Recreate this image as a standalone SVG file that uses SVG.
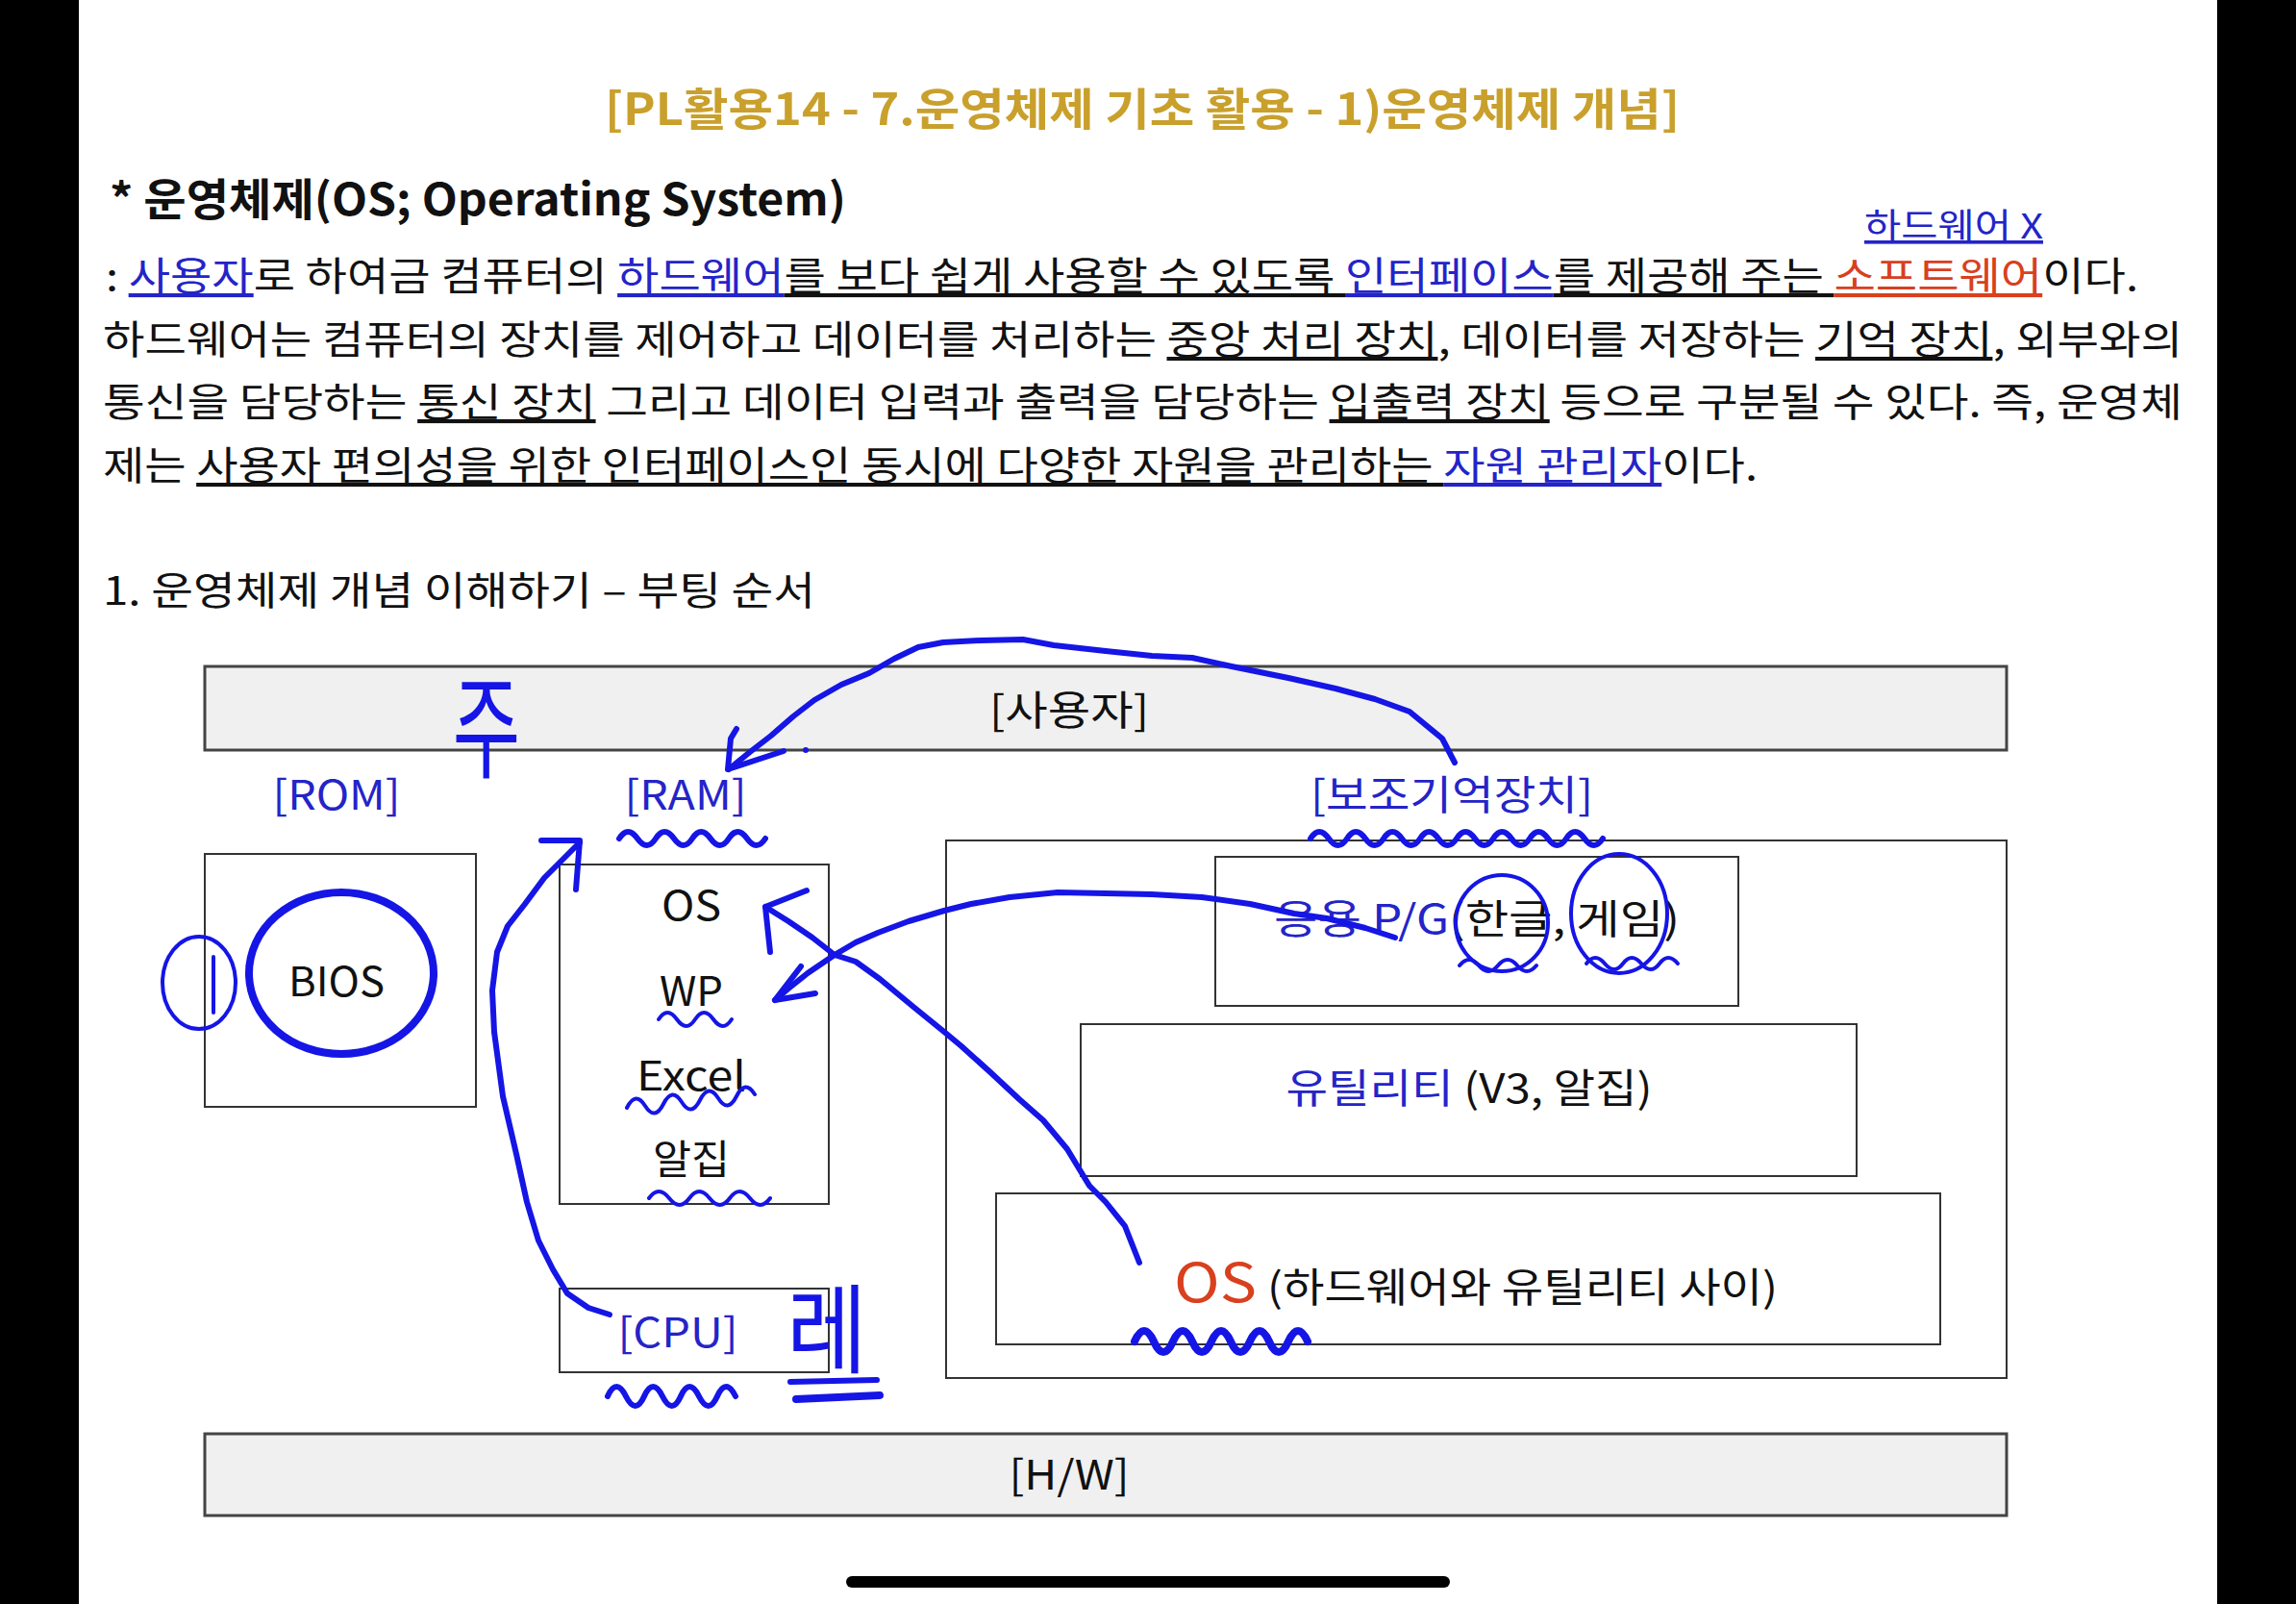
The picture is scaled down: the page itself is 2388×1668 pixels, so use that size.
<svg xmlns="http://www.w3.org/2000/svg" width="2388" height="1668" viewBox="0 0 2388 1668">
<style>
.k{font-family:"Noto Sans CJK KR","Noto Sans",sans-serif}
.p{font-size:41px;fill:#111}
.lbl{font-size:42px;fill:#111;text-anchor:middle}
.bl{fill:#2424c8}
.rd{fill:#d8401e}
.u{text-decoration:underline}
.box{fill:#fff;stroke:#333;stroke-width:2}
.bar{fill:#f0f0f0;stroke:#444;stroke-width:3}
.ink{fill:none;stroke:#1515e6;stroke-width:6;stroke-linecap:round;stroke-linejoin:round}
.thin{stroke-width:4}
.thick{stroke-width:8}
.hand{fill:#1515e6;text-anchor:middle}
</style>
<rect x="0" y="0" width="2388" height="1668" fill="#fff"/>
<rect x="0" y="0" width="82" height="1668" fill="#000"/>
<rect x="2306" y="0" width="82" height="1668" fill="#000"/>

<g id="header" class="k">
<text x="1188" y="130" font-size="46" font-weight="700" fill="#c9a02c" text-anchor="middle" textLength="1118" lengthAdjust="spacingAndGlyphs">[PL활용14 - 7.운영체제 기초 활용 - 1)운영체제 개념]</text>
<text x="114" y="224" font-size="46" font-weight="700" fill="#111" textLength="766" lengthAdjust="spacingAndGlyphs">* 운영체제(OS; Operating System)</text>
<text x="1939" y="248" font-size="36" class="bl u" textLength="186" lengthAdjust="spacingAndGlyphs">하드웨어 X</text>
<text x="110" y="302" class="p" textLength="2114" lengthAdjust="spacingAndGlyphs"><tspan>: </tspan><tspan class="bl u">사용자</tspan><tspan>로 하여금 컴퓨터의 </tspan><tspan class="bl u">하드웨어</tspan><tspan class="u">를 보다 쉽게 사용할 수 있도록 </tspan><tspan class="bl u">인터페이스</tspan><tspan class="u">를 제공해 주는 </tspan><tspan class="rd u">소프트웨어</tspan><tspan>이다.</tspan></text>
<text x="107" y="368" class="p" textLength="2163" lengthAdjust="spacingAndGlyphs"><tspan>하드웨어는 컴퓨터의 장치를 제어하고 데이터를 처리하는 </tspan><tspan class="u">중앙 처리 장치</tspan><tspan>, 데이터를 저장하는 </tspan><tspan class="u">기억 장치</tspan><tspan>, 외부와의</tspan></text>
<text x="107" y="433" class="p" textLength="2163" lengthAdjust="spacingAndGlyphs"><tspan>통신을 담당하는 </tspan><tspan class="u">통신 장치</tspan><tspan> 그리고 데이터 입력과 출력을 담당하는 </tspan><tspan class="u">입출력 장치</tspan><tspan> 등으로 구분될 수 있다. 즉, 운영체</tspan></text>
<text x="107" y="499" class="p" textLength="1721" lengthAdjust="spacingAndGlyphs"><tspan>제는 </tspan><tspan class="u">사용자 편의성을 위한 인터페이스인 동시에 다양한 자원을 관리하는 </tspan><tspan class="bl u">자원 관리자</tspan><tspan>이다.</tspan></text>
<text x="107" y="629" class="p" textLength="741" lengthAdjust="spacingAndGlyphs">1. 운영체제 개념 이해하기 – 부팅 순서</text>
</g>

<g id="user-bar" class="k"><rect class="bar" x="213" y="693" width="1874" height="87"/><text class="lbl" x="1112" y="754" textLength="166" lengthAdjust="spacingAndGlyphs">[사용자]</text></g>
<g id="rom" class="k"><text class="lbl bl" x="350" y="842" textLength="133" lengthAdjust="spacingAndGlyphs">[ROM]</text><rect class="box" x="213" y="888" width="282" height="263"/><text class="lbl" x="350" y="1036" textLength="100" lengthAdjust="spacingAndGlyphs">BIOS</text></g>
<g id="ram" class="k"><text class="lbl bl" x="713" y="842" textLength="127" lengthAdjust="spacingAndGlyphs">[RAM]</text><rect class="box" x="582" y="899" width="280" height="353"/>
<text class="lbl" x="719" y="957" textLength="62" lengthAdjust="spacingAndGlyphs">OS</text>
<text class="lbl" x="719" y="1046" textLength="66" lengthAdjust="spacingAndGlyphs">WP</text>
<text class="lbl" x="719" y="1134" textLength="114" lengthAdjust="spacingAndGlyphs">Excel</text>
<text class="lbl" x="719" y="1221" textLength="80" lengthAdjust="spacingAndGlyphs">알집</text></g>
<g id="cpu" class="k"><rect class="box" x="582" y="1340" width="280" height="87"/><text class="lbl bl" x="705" y="1401" textLength="125" lengthAdjust="spacingAndGlyphs">[CPU]</text></g>
<g id="storage" class="k"><text class="lbl bl" x="1510" y="842" textLength="294" lengthAdjust="spacingAndGlyphs">[보조기억장치]</text><rect class="box" x="984" y="874" width="1103" height="559"/></g>
<g id="app" class="k"><rect class="box" x="1264" y="891" width="544" height="155"/><text class="lbl" x="1536" y="971" textLength="422" lengthAdjust="spacingAndGlyphs"><tspan class="bl">응용 P/G</tspan><tspan>(한글, 게임)</tspan></text></g>
<g id="utility" class="k"><rect class="box" x="1124" y="1065" width="807" height="158"/><text class="lbl" x="1528" y="1147" textLength="381" lengthAdjust="spacingAndGlyphs"><tspan class="bl">유틸리티</tspan><tspan> (V3, 알집)</tspan></text></g>
<g id="os" class="k"><rect class="box" x="1036" y="1241" width="982" height="157"/><text x="1221" y="1354" font-size="56" class="rd" textLength="86" lengthAdjust="spacingAndGlyphs">OS</text><text x="1318" y="1354" font-size="42" fill="#111" textLength="531" lengthAdjust="spacingAndGlyphs">(하드웨어와 유틸리티 사이)</text></g>
<g id="hw-bar" class="k"><rect class="bar" x="213" y="1491" width="1874" height="85"/><text class="lbl" x="1112" y="1549" textLength="125" lengthAdjust="spacingAndGlyphs">[H/W]</text></g>

<g id="connectors">
<path class="ink" d="M1513,793 L1500,768 1466,740 1430,727 1389,716 1340,705 1281,693 1240,684 1198,682 1150,677 1096,671 1064,665 1020,666 981,668 955,673 930,685 904,700 875,712 847,728 825,745 802,765 780,782 758,800"/>
<path class="ink" d="M766,758 L760,768 757,800 L815,781"/>
<circle cx="838" cy="780" r="3" fill="#1515e6"/>
<path class="ink" d="M634,1367 L612,1360 590,1345 575,1320 560,1290 548,1250 537,1200 523,1140 514,1073 512,1030 517,990 528,963 546,940 566,913 586,893 603,876"/>
<path class="ink" d="M563,874 L603,874 L599,925"/>
<path class="ink" d="M1451,975 L1420,965 1380,955 1346,950 1300,940 1250,933 1198,930 1150,929 1100,928 1050,933 1010,940 982,947 945,958 913,970 890,980 868,993 840,1012 820,1028 806,1040"/>
<path class="ink" d="M833,1005 L806,1040 L848,1033"/>
<path class="ink" d="M1185,1313 L1170,1275 1150,1250 1133,1233 1110,1195 1085,1165 1060,1143 1030,1115 1000,1088 982,1073 950,1047 915,1018 890,1000 868,993 845,975 820,958 796,943"/>
<path class="ink" d="M839,926 L796,943 L801,990"/>
</g>

<g id="annotations">
<ellipse class="ink thick" cx="355" cy="1012" rx="96" ry="84"/>
<ellipse class="ink thin" cx="207" cy="1022" rx="38" ry="48"/>
<path class="ink thin" d="M222,995 L222,1053"/>
<ellipse class="ink thin" cx="1562" cy="960" rx="48" ry="50"/>
<ellipse class="ink thin" cx="1684" cy="950" rx="50" ry="62"/>
<path class="ink" d="M644,872 q9,-14 19,0 t19,0 t19,0 t19,0 t19,0 t19,0 t19,0 t19,0"/>
<path class="ink" d="M1363,872 q9,-14 19,0 t19,0 t19,0 t19,0 t19,0 t19,0 t19,0 t19,0 t19,0 t19,0 t19,0 t19,0 t19,0 t19,0 t19,0 t19,0"/>
<path class="ink thin" d="M685,1060 q9,-14 19,0 t19,0 t19,0 t19,0"/>
<path class="ink thin" d="M652,1152 q9,-18 19,-2 t19,-2 t19,-2 t19,-2 t19,-2 t19,-2 t19,-2"/>
<path class="ink thin" d="M675,1246 q10,-14 21,0 t21,0 t21,0 t21,0 t21,0 t21,0"/>
<path class="ink" d="M632,1452 q9,-20 19,0 t19,0 t19,0 t19,0 t19,0 t19,0 t19,0"/>
<path class="ink thick" d="M1180,1395 q10,-22 20,0 t20,0 t20,0 t20,0 t20,0 t20,0 t20,0 t20,0 t20,0"/>
<path class="ink thin" d="M1518,1004 q10,-12 20,0 t20,0 t20,0 t20,0"/>
<path class="ink thin" d="M1650,1002 q9,-12 19,0 t19,0 t19,0 t19,0 t19,0"/>
<text class="k hand" x="0" y="0" font-size="90" transform="translate(506,800) scale(0.85,1.3)">주</text>
<text class="k hand" x="0" y="0" font-size="96" transform="translate(860,1420) scale(0.95,1.05)">레</text>
<path class="ink" d="M822,1437 L912,1435"/>
<path class="ink thick" d="M828,1455 L915,1451"/>
</g>

<rect x="880" y="1639" width="628" height="12" rx="6" fill="#000"/>
</svg>
